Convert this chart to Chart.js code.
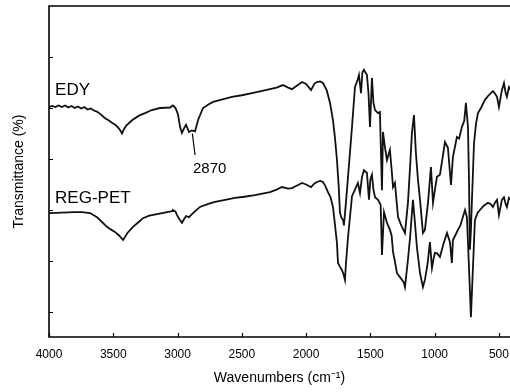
<!DOCTYPE html>
<html>
<head>
<meta charset="utf-8">
<script src="https://cdn.jsdelivr.net/npm/chart.js@4.4.1/dist/chart.umd.min.js"></script>
<style>
  html, body { margin: 0; padding: 0; background: #fff; overflow: hidden; }
  canvas { display: block; }
</style>
</head>
<body>
<canvas id="ftir" width="510" height="392"></canvas>
<script>
// ─── Data ─────────────────────────────────────────────────────
const xTicks = [4000, 3500, 3000, 2500, 2000, 1500, 1000, 500];
const yTicks = [0, 1, 2, 3, 4, 5];
const seriesNames = ['EDY', 'REG-PET'];
const peakName = '2870';

const edyWavenumber = [
  4000, 3975, 3950, 3925, 3900, 3875, 3850, 3825, 3800, 3775, 3750, 3725, 3700, 3675, 3650, 3627,
  3595, 3564, 3537, 3510, 3485, 3463, 3445, 3432, 3420, 3401, 3354, 3300, 3253, 3200, 3137, 3059,
  3036, 3016, 2997, 2980, 2966, 2950, 2934, 2911, 2890, 2864, 2841, 2802, 2760, 2724, 2650, 2577,
  2500, 2421, 2350, 2281, 2230, 2180, 2140, 2110, 2070, 2032, 2000, 1962, 1935, 1916, 1890, 1869,
  1840, 1814, 1791, 1775, 1760, 1745, 1737, 1725, 1712, 1706, 1690, 1674, 1643, 1620, 1600, 1589,
  1573, 1562, 1550, 1540, 1527, 1515, 1503, 1488, 1476, 1464, 1440, 1426, 1410, 1402, 1385, 1371,
  1348, 1335, 1324, 1309, 1285, 1260, 1245, 1231, 1208, 1190, 1177, 1161, 1146, 1130, 1114, 1091,
  1076, 1052, 1029, 1013, 995, 982, 959, 940, 920, 897, 873, 858, 827, 810, 788, 770,
  757, 741, 733, 726, 718, 710, 694, 678, 663, 640, 609, 580, 547, 530, 515, 500,
  477, 461, 448, 438, 422, 407
];
const edyTransmittance = [
  4.02, 4.04, 4.02, 4.05, 4.02, 4.05, 4.01, 4.04, 4.00, 4.03, 3.99, 4.02, 3.97, 3.99, 3.95, 3.93,
  3.87, 3.80, 3.76, 3.71, 3.67, 3.62, 3.56, 3.50, 3.57, 3.65, 3.76, 3.85, 3.90, 3.96, 4.00, 4.01,
  4.05, 4.00, 3.88, 3.62, 3.51, 3.60, 3.67, 3.53, 3.56, 3.54, 3.76, 4.00, 4.07, 4.12, 4.17, 4.22,
  4.25, 4.29, 4.33, 4.37, 4.40, 4.45, 4.40, 4.37, 4.44, 4.51, 4.47, 4.35, 4.48, 4.51, 4.52, 4.49,
  4.35, 4.10, 3.76, 3.40, 2.98, 2.40, 1.95, 1.85, 1.80, 1.70, 2.15, 2.65, 3.63, 4.41, 4.55, 4.65,
  4.29, 4.70, 4.75, 4.70, 4.65, 4.30, 3.63, 4.59, 4.10, 3.96, 3.90, 3.92, 2.39, 3.53, 3.20, 2.98,
  3.18, 2.80, 2.45, 2.53, 1.86, 1.70, 1.62, 1.55, 2.14, 2.90, 3.51, 3.86, 3.12, 2.60, 2.20, 1.55,
  1.61, 2.14, 2.84, 2.14, 2.45, 2.65, 2.69, 3.00, 3.33, 3.22, 2.49, 3.04, 3.43, 3.40, 3.63, 3.75,
  4.10, 3.63, 2.60, 1.22, 1.60, 2.20, 3.31, 3.70, 3.90, 4.00, 4.16, 4.25, 4.33, 4.28, 4.22, 4.02,
  4.35, 4.49, 4.30, 4.22, 4.41, 4.35
];

const regWavenumber = [
  4000, 3900, 3800, 3743, 3680, 3627, 3590, 3549, 3520, 3487, 3455, 3424, 3390, 3347, 3300, 3269,
  3220, 3160, 3100, 3043, 3036, 3016, 3004, 2985, 2966, 2950, 2934, 2911, 2880, 2826, 2760, 2709,
  2630, 2553, 2480, 2398, 2340, 2281, 2230, 2188, 2140, 2110, 2070, 2032, 2000, 1962, 1935, 1916,
  1890, 1869, 1850, 1830, 1810, 1791, 1775, 1760, 1752, 1735, 1721, 1710, 1698, 1690, 1674, 1643,
  1620, 1597, 1581, 1565, 1550, 1538, 1527, 1511, 1500, 1488, 1476, 1464, 1441, 1420, 1410, 1394,
  1371, 1348, 1335, 1324, 1310, 1293, 1254, 1240, 1231, 1208, 1190, 1177, 1169, 1155, 1138, 1114,
  1091, 1076, 1055, 1037, 1021, 1008, 998, 980, 959, 930, 904, 881, 866, 858, 840, 819,
  800, 788, 764, 749, 733, 718, 710, 702, 687, 665, 648, 620, 586, 565, 547, 530,
  515, 500, 477, 461, 448, 438, 422, 407
];
const regTransmittance = [
  1.94, 1.95, 1.96, 1.96, 1.94, 1.86, 1.77, 1.67, 1.62, 1.57, 1.50, 1.41, 1.55, 1.67, 1.77, 1.84,
  1.89, 1.92, 1.95, 1.98, 2.00, 1.97, 1.90, 1.82, 1.75, 1.82, 1.88, 1.86, 1.94, 2.06, 2.12, 2.16,
  2.20, 2.24, 2.26, 2.29, 2.32, 2.35, 2.40, 2.45, 2.42, 2.43, 2.48, 2.53, 2.50, 2.45, 2.52, 2.55,
  2.57, 2.55, 2.47, 2.35, 2.25, 2.06, 1.70, 1.35, 0.96, 0.88, 0.82, 0.75, 0.63, 0.95, 1.47, 2.27,
  2.40, 2.53, 2.33, 2.65, 2.78, 2.75, 2.73, 2.20, 2.60, 2.69, 2.40, 2.25, 2.20, 2.10, 1.12, 1.96,
  1.75, 1.61, 1.50, 1.18, 1.00, 0.76, 0.63, 0.58, 0.49, 1.02, 1.50, 1.94, 2.20, 1.80, 1.27, 0.76,
  0.49, 0.63, 0.95, 1.37, 0.86, 1.05, 1.16, 1.15, 1.08, 1.35, 1.55, 1.37, 0.96, 1.41, 1.50, 1.61,
  1.70, 1.80, 2.00, 1.86, 0.88, -0.10, 0.40, 0.88, 1.80, 1.95, 2.00, 2.08, 2.14, 2.12, 2.06, 2.15,
  2.20, 1.90, 2.20, 2.25, 2.12, 2.06, 2.24, 2.20
];

// ─── Helpers ──────────────────────────────────────────────────
const FONT = "'Liberation Sans', Arial, Helvetica, sans-serif";
const toPoints = (xs, ys) => xs.map((x, i) => ({ x: x, y: ys[i] }));

// frame on three sides, inward ticks, curve names and the 2870 marker
const framePlugin = {
  id: 'frame',
  afterDraw(chart) {
    const { ctx, chartArea: a, scales: { x, y } } = chart;
    ctx.save();
    ctx.strokeStyle = '#000';
    ctx.lineWidth = 1.6;
    ctx.beginPath();
    ctx.moveTo(a.right, a.top);
    ctx.lineTo(a.left, a.top);
    ctx.lineTo(a.left, a.bottom);
    ctx.lineTo(a.right, a.bottom);
    ctx.stroke();

    ctx.lineWidth = 1.2;
    ctx.beginPath();
    xTicks.forEach(v => {
      const px = Math.round(x.getPixelForValue(v)) + 0.5;
      ctx.moveTo(px, a.bottom);
      ctx.lineTo(px, a.bottom - 4);
    });
    yTicks.forEach(v => {
      const py = Math.round(y.getPixelForValue(v)) + 0.5;
      ctx.moveTo(a.left, py);
      ctx.lineTo(a.left + 4, py);
    });
    ctx.stroke();

    // curve names
    ctx.fillStyle = '#000';
    ctx.textAlign = 'left';
    ctx.textBaseline = 'alphabetic';
    ctx.font = '17px ' + FONT;
    ctx.fillText(seriesNames[0], x.getPixelForValue(3953), y.getPixelForValue(4.25));
    ctx.fillText(seriesNames[1], x.getPixelForValue(3953), y.getPixelForValue(2.14));

    // 2870 band marker
    ctx.lineWidth = 1.2;
    ctx.beginPath();
    ctx.moveTo(x.getPixelForValue(2885), y.getPixelForValue(3.50));
    ctx.lineTo(x.getPixelForValue(2864), y.getPixelForValue(3.08));
    ctx.stroke();
    ctx.font = '15px ' + FONT;
    ctx.fillText(peakName, x.getPixelForValue(2880), y.getPixelForValue(2.73));
    ctx.restore();
  }
};

// ─── Chart ────────────────────────────────────────────────────
new Chart(document.getElementById('ftir'), {
  type: 'line',
  data: {
    datasets: [
      {
        label: seriesNames[0],
        data: toPoints(edyWavenumber, edyTransmittance),
        borderColor: '#111',
        borderWidth: 1.8,
        pointRadius: 0,
        tension: 0
      },
      {
        label: seriesNames[1],
        data: toPoints(regWavenumber, regTransmittance),
        borderColor: '#111',
        borderWidth: 1.8,
        pointRadius: 0,
        tension: 0
      }
    ]
  },
  options: {
    responsive: false,
    animation: false,
    layout: { padding: { top: 6, right: 0, left: 0, bottom: 0 } },
    plugins: {
      legend: { display: false },
      tooltip: { enabled: false }
    },
    scales: {
      x: {
        type: 'linear',
        reverse: true,
        min: 414,
        max: 4000,
        afterBuildTicks: s => { s.ticks = xTicks.map(v => ({ value: v })); },
        afterFit: s => { s.height = 55; s.paddingLeft = 0; s.paddingRight = 0; },
        grid: { display: false, drawTicks: false },
        border: { display: false },
        ticks: {
          color: '#000',
          padding: 10,
          maxRotation: 0,
          autoSkip: false,
          font: { family: FONT, size: 12 },
          callback: v => String(v)
        },
        title: {
          display: true,
          text: 'Wavenumbers (cm⁻¹)',
          color: '#000',
          font: { family: FONT, size: 14 },
          padding: { top: 0, bottom: 5 }
        }
      },
      y: {
        min: -0.49,
        max: 6,
        afterBuildTicks: s => { s.ticks = yTicks.map(v => ({ value: v })); },
        afterFit: s => { s.width = 49; },
        grid: { display: false, drawTicks: false },
        border: { display: false },
        ticks: { display: false },
        title: {
          display: true,
          text: 'Transmittance (%)',
          color: '#000',
          font: { family: FONT, size: 14 },
          padding: { top: 11, bottom: 0 }
        }
      }
    }
  },
  plugins: [framePlugin]
});
</script>
</body>
</html>
